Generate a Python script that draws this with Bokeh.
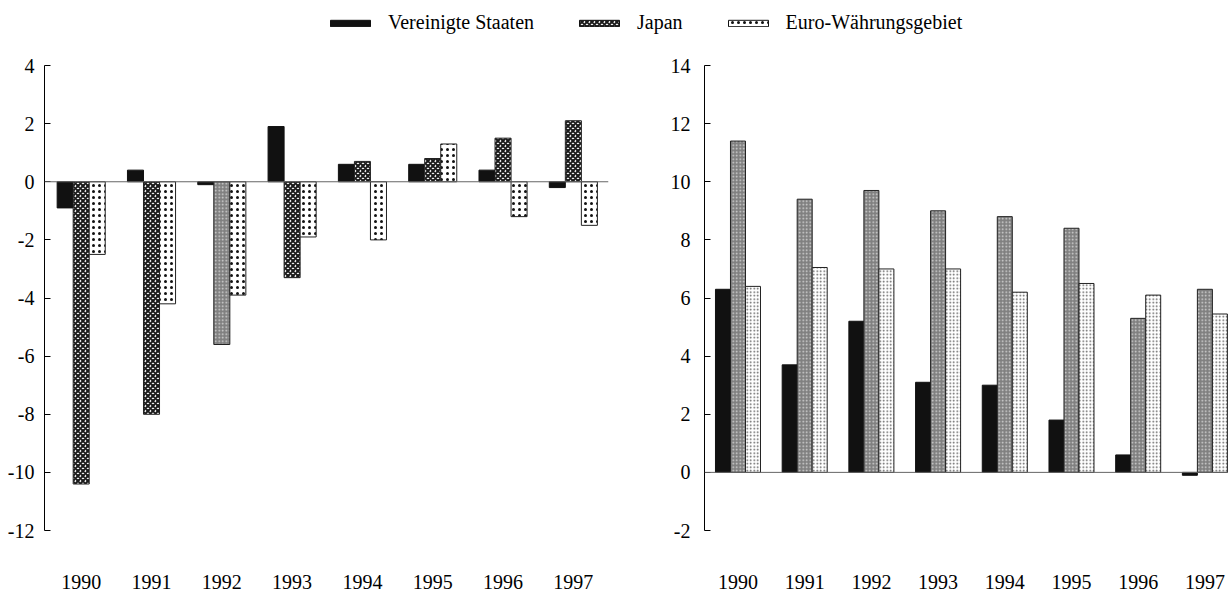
from bokeh.plotting import figure
from bokeh.layouts import column, row
from bokeh.models import ColumnDataSource, Range1d, FixedTicker, Span, Legend, LegendItem
from bokeh.transform import dodge
from bokeh.embed import file_html
from bokeh.resources import INLINE

# ---------------- data ----------------
years = ["1990", "1991", "1992", "1993", "1994", "1995", "1996", "1997"]
series = ["Vereinigte Staaten", "Japan", "Euro-Währungsgebiet"]

left_us = [-0.9, 0.4, -0.1, 1.9, 0.6, 0.6, 0.4, -0.2]
left_japan = [-10.4, -8.0, -5.6, -3.3, 0.7, 0.8, 1.5, 2.1]
left_euro = [-2.5, -4.2, -3.9, -1.9, -2.0, 1.3, -1.2, -1.5]

right_us = [6.3, 3.7, 5.2, 3.1, 3.0, 1.8, 0.6, -0.1]
right_japan = [11.4, 9.4, 9.7, 9.0, 8.8, 8.4, 5.3, 6.3]
right_euro = [6.4, 7.05, 7.0, 7.0, 6.2, 6.5, 6.1, 5.45]

left_yticks = [-12, -10, -8, -6, -4, -2, 0, 2, 4]
right_yticks = [-2, 0, 2, 4, 6, 8, 10, 12, 14]

# ---------------- styles ----------------
FONT = "Liberation Serif"
FSIZE = "20px"
BW_LEFT = 0.228
BW_RIGHT = 0.225

TEX = {
    "solid":   dict(fill="#111111", hatch=" ", hcolor="#111111", hscale=4.0, hweight=1.0),
    "checker": dict(fill="#ffffff", hatch="x", hcolor="#1a1a1a", hscale=5.0, hweight=2.0),
    "fine":    dict(fill="#808080", hatch=".", hcolor="#d8d8d8", hscale=3.5, hweight=1.2),
    "sparse":  dict(fill="#ffffff", hatch=".", hcolor="#111111", hscale=6.0, hweight=2.4),
    "light":   dict(fill="#ffffff", hatch=".", hcolor="#5a5a5a", hscale=3.5, hweight=1.8),
}
left_japan_texture = ["checker", "checker", "fine", "checker", "checker", "checker", "checker", "checker"]


def tex_kwargs(name):
    t = TEX[name]
    return dict(fill_color=t["fill"], hatch_pattern=t["hatch"], hatch_color=t["hcolor"],
                hatch_scale=t["hscale"], hatch_weight=t["hweight"])


def style_chart(p, yticks, ystandoff):
    p.xgrid.visible = False
    p.ygrid.visible = False
    p.outline_line_color = None
    p.background_fill_color = "white"
    p.border_fill_color = "white"
    ya = p.yaxis[0]
    ya.ticker = FixedTicker(ticks=yticks)
    ya.major_label_overrides = {t: str(t) for t in yticks}   # plain hyphen minus
    ya.minor_tick_line_color = None
    ya.major_tick_in = 6
    ya.major_tick_out = 0
    ya.axis_line_color = "black"
    ya.major_tick_line_color = "black"
    ya.major_label_text_font = FONT
    ya.major_label_text_font_size = FSIZE
    ya.major_label_text_color = "black"
    ya.major_label_standoff = ystandoff
    xa = p.xaxis[0]
    xa.ticker = FixedTicker(ticks=list(range(len(years))))
    xa.major_label_overrides = {i: y for i, y in enumerate(years)}
    xa.axis_line_color = None
    xa.major_tick_line_color = None
    xa.minor_tick_line_color = None
    xa.major_tick_out = 0
    xa.major_tick_in = 0
    xa.major_label_text_font = FONT
    xa.major_label_text_font_size = FSIZE
    xa.major_label_text_color = "black"
    xa.major_label_standoff = 44
    p.add_layout(Span(location=0, dimension="width", line_color="#666666", line_width=1))


def add_bars(p, src, bw, jp_cols=False, jp_tex=None, eu_tex="sparse"):
    p.vbar(x=dodge("x", -bw, range=p.x_range), top="us", width=bw, source=src,
           line_color="#111111", line_width=1, **tex_kwargs("solid"))
    if jp_cols:
        p.vbar(x=dodge("x", 0, range=p.x_range), top="japan", width=bw, source=src,
               line_color="#222222", line_width=1, fill_color="jp_fill",
               hatch_pattern="jp_hatch", hatch_color="jp_hcolor",
               hatch_scale="jp_hscale", hatch_weight="jp_hweight")
    else:
        p.vbar(x=dodge("x", 0, range=p.x_range), top="japan", width=bw, source=src,
               line_color="#222222", line_width=1, **tex_kwargs(jp_tex))
    p.vbar(x=dodge("x", bw, range=p.x_range), top="euro", width=bw, source=src,
           line_color="#222222", line_width=1, **tex_kwargs(eu_tex))


idx = list(range(len(years)))

CH = 559          # chart height
BT, BB = 27, 67   # shared top / bottom borders so both frames line up

# ---------------- left chart ----------------
left_src = ColumnDataSource(dict(
    x=idx, us=left_us, japan=left_japan, euro=left_euro,
    jp_fill=[TEX[t]["fill"] for t in left_japan_texture],
    jp_hatch=[TEX[t]["hatch"] for t in left_japan_texture],
    jp_hcolor=[TEX[t]["hcolor"] for t in left_japan_texture],
    jp_hscale=[TEX[t]["hscale"] for t in left_japan_texture],
    jp_hweight=[TEX[t]["hweight"] for t in left_japan_texture],
))

left = figure(width=640, height=CH, x_range=Range1d(-0.522, 7.5), y_range=Range1d(-12, 4),
              output_backend="svg", toolbar_location=None,
              min_border_left=44, min_border_right=32, min_border_top=BT, min_border_bottom=BB)
style_chart(left, left_yticks, 10)
add_bars(left, left_src, BW_LEFT, jp_cols=True, eu_tex="sparse")

# ---------------- right chart ----------------
right_src = ColumnDataSource(dict(x=idx, us=right_us, japan=right_japan, euro=right_euro))
right = figure(width=588, height=CH, x_range=Range1d(-0.502, 7.354), y_range=Range1d(-2, 14),
               output_backend="svg", toolbar_location=None,
               min_border_left=64, min_border_right=0, min_border_top=BT, min_border_bottom=BB)
style_chart(right, right_yticks, 14)
add_bars(right, right_src, BW_RIGHT, jp_tex="fine", eu_tex="light")

# ---------------- legend strip ----------------
# legend renderers reuse the left data but sit outside this strip's visible range
lf = figure(width=1228, height=38, x_range=Range1d(0, 1), y_range=Range1d(100, 101),
            output_backend="svg", toolbar_location=None,
            x_axis_location=None, y_axis_location=None,
            min_border_left=0, min_border_right=0, min_border_top=0, min_border_bottom=0)
lf.xgrid.visible = False
lf.ygrid.visible = False
lf.outline_line_color = None
legend_tex = ["solid", "checker", "sparse"]
legend_cols = ["us", "japan", "euro"]
items = []
for name, tex, col in zip(series, legend_tex, legend_cols):
    r = lf.vbar(x="x", top=col, width=BW_LEFT, source=left_src, line_color="#111111",
                line_width=1, **tex_kwargs(tex))
    items.append(LegendItem(label=name, renderers=[r]))
leg = Legend(items=items, orientation="horizontal", location=(325, 4),
             glyph_width=50, glyph_height=8, label_standoff=13, spacing=40,
             padding=0, margin=0, border_line_color=None, background_fill_alpha=0,
             label_text_font=FONT, label_text_font_size=FSIZE, label_text_color="black")
lf.add_layout(leg)

layout = column(lf, row(left, right))
open("out.html", "w").write(file_html(layout, INLINE))
